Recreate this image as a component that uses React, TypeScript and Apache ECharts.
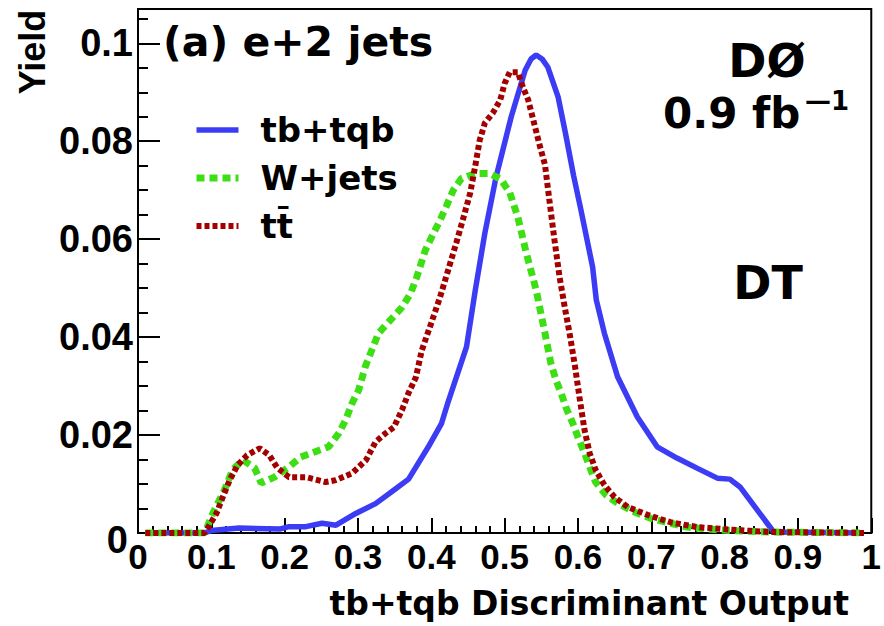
import React, { useEffect, useRef } from "react";
import * as echarts from "echarts";

const seriesNames = ["tb+tqb", "W+jets", "tt\u0304"];
const seriesColors = ["#3c3cf4", "#3ddf14", "#a40000"];

// [discriminant output, yield]
const tbTqb: [number, number][] = [
  [0.01, 0], [0.09, 0], [0.1, 0.0005], [0.138, 0.001], [0.193, 0.0008], [0.206, 0.0013],
  [0.229, 0.0013], [0.251, 0.002], [0.27, 0.0016], [0.297, 0.004], [0.324, 0.006],
  [0.351, 0.009], [0.369, 0.011], [0.396, 0.0176], [0.414, 0.0224], [0.423, 0.0268],
  [0.448, 0.038], [0.46, 0.0496], [0.473, 0.0612], [0.488, 0.0725], [0.509, 0.085],
  [0.528, 0.0945], [0.536, 0.0968], [0.543, 0.0976], [0.551, 0.0968], [0.559, 0.0951],
  [0.573, 0.089], [0.583, 0.0816], [0.594, 0.073], [0.604, 0.066], [0.62, 0.0543],
  [0.625, 0.0476], [0.636, 0.0408], [0.654, 0.0319], [0.681, 0.0237], [0.708, 0.0176],
  [0.735, 0.0153], [0.763, 0.0132], [0.79, 0.0112], [0.807, 0.011], [0.821, 0.0094],
  [0.867, 0.0002], [0.99, 0],
];

const wJets: [number, number][] = [
  [0.01, 0], [0.091, 0], [0.102, 0.004], [0.118, 0.0088], [0.129, 0.0129], [0.143, 0.0149],
  [0.159, 0.0133], [0.168, 0.0102], [0.186, 0.0114], [0.206, 0.0135], [0.222, 0.0155],
  [0.24, 0.0165], [0.26, 0.0176], [0.274, 0.0204], [0.283, 0.023], [0.292, 0.0265],
  [0.301, 0.0292], [0.31, 0.034], [0.328, 0.0408], [0.36, 0.0461], [0.372, 0.049],
  [0.38, 0.0522], [0.392, 0.0578], [0.403, 0.0612], [0.412, 0.0639], [0.421, 0.0669],
  [0.43, 0.07], [0.441, 0.0724], [0.46, 0.0734], [0.48, 0.0734], [0.495, 0.0722],
  [0.507, 0.0695], [0.518, 0.0645], [0.529, 0.0575], [0.543, 0.0496], [0.555, 0.0408],
  [0.563, 0.0347], [0.57, 0.0312], [0.577, 0.0286], [0.584, 0.0255], [0.593, 0.0224],
  [0.6, 0.0196], [0.609, 0.0163], [0.616, 0.0135], [0.624, 0.0104], [0.638, 0.0078],
  [0.654, 0.0061], [0.677, 0.0043], [0.699, 0.003], [0.726, 0.002], [0.749, 0.0012],
  [0.794, 0.0006], [0.862, 0.0002], [0.99, 0],
];

const ttbar: [number, number][] = [
  [0.01, 0], [0.091, 0], [0.107, 0.004], [0.115, 0.0071], [0.125, 0.0108], [0.136, 0.0139],
  [0.149, 0.0159], [0.166, 0.0173], [0.179, 0.0159], [0.19, 0.0133], [0.206, 0.0114],
  [0.229, 0.0114], [0.256, 0.0104], [0.27, 0.0108], [0.292, 0.0122], [0.311, 0.0149],
  [0.324, 0.0186], [0.338, 0.0204], [0.349, 0.0216], [0.36, 0.0251], [0.369, 0.0286],
  [0.379, 0.0318], [0.387, 0.0373], [0.4, 0.0429], [0.412, 0.0482], [0.423, 0.0537],
  [0.434, 0.0592], [0.444, 0.0645], [0.453, 0.0694], [0.46, 0.075], [0.466, 0.0802],
  [0.473, 0.0837], [0.484, 0.0858], [0.494, 0.0884], [0.5, 0.0918], [0.507, 0.0941],
  [0.518, 0.0941], [0.525, 0.091], [0.532, 0.0885], [0.541, 0.0832], [0.547, 0.0796],
  [0.555, 0.0752], [0.561, 0.068], [0.568, 0.0598], [0.575, 0.0522], [0.582, 0.0461],
  [0.589, 0.0404], [0.596, 0.034], [0.602, 0.0278], [0.609, 0.021], [0.616, 0.0163],
  [0.624, 0.0129], [0.636, 0.0098], [0.65, 0.0073], [0.668, 0.0053], [0.695, 0.0037],
  [0.726, 0.0022], [0.763, 0.0012], [0.817, 0.0006], [0.862, 0.0002], [0.99, 0],
];

const X_MIN = 0;
const X_MAX = 1;
const X_STEP = 0.1;
const Y_MIN = 0;
const Y_MAX = 0.107;
const Y_STEP = 0.02;
const Y_MINOR_STEP = 0.005;

const xTitle = "tb+tqb Discriminant Output";
const yTitle = "Yield";
const channelLabel = "(a) e+2 jets";
const experimentLabel = "D\u00d8";
const lumiLabel = "0.9 fb";
const lumiExponent = "\u20141";
const methodLabel = "DT";

const TICK_FONT = "Liberation Sans";
const TEXT_FONT = "DejaVu Sans";

export default function App() {
  const ref = useRef<HTMLDivElement>(null);

  useEffect(() => {
    if (!ref.current) return;
    const chart = echarts.init(ref.current, undefined, { renderer: "svg" });
    const gridRect = { left: 138, top: 9, width: 737, height: 524 };
    const black = "#000";
    const tickLine = { color: black, width: 2 };

    const yFormatter = (v: number) => {
      const k = v / Y_STEP;
      if (Math.abs(k - Math.round(k)) > 1e-6) return "";
      if (Math.abs(v) < 1e-9) return "{z|0}";
      return String(Math.round(v * 1000) / 1000);
    };

    const dashes: any[] = ["solid", [8, 5], [5, 3]];
    const widths = [5.5, 7, 6];
    const datas = [tbTqb, wJets, ttbar];

    chart.setOption({
      animation: false,
      grid: [
        { ...gridRect, show: true, borderColor: black, borderWidth: 2, backgroundColor: "transparent" },
        { ...gridRect, show: false },
      ],
      xAxis: [
        {
          gridIndex: 0,
          type: "value",
          min: X_MIN,
          max: X_MAX,
          interval: X_STEP,
          axisLine: { show: true, onZero: false, lineStyle: tickLine },
          axisTick: { show: true, inside: true, length: 15, lineStyle: tickLine },
          minorTick: { show: true, splitNumber: 5, length: 7, lineStyle: tickLine },
          splitLine: { show: false },
          axisLabel: {
            margin: 6,
            color: black,
            fontSize: 35,
            fontWeight: "bold",
            fontFamily: TICK_FONT,
            formatter: (v: number) => String(Math.round(v * 10) / 10),
          },
        },
        { gridIndex: 1, type: "value", min: X_MIN, max: X_MAX, show: false },
      ],
      yAxis: [
        {
          gridIndex: 0,
          type: "value",
          min: Y_MIN,
          max: Y_MAX,
          interval: Y_STEP,
          axisLine: { show: true, onZero: false, lineStyle: tickLine },
          axisTick: { show: true, inside: true, length: 22, lineStyle: tickLine },
          splitLine: { show: false },
          axisLabel: {
            margin: 5,
            color: black,
            fontSize: 38,
            fontWeight: "bold",
            fontFamily: TICK_FONT,
            formatter: yFormatter,
            rich: {
              z: {
                fontSize: 38,
                fontWeight: "bold",
                fontFamily: TICK_FONT,
                color: black,
                padding: [14, 5, 0, 0],
              },
            },
          },
        },
        {
          gridIndex: 1,
          type: "value",
          min: Y_MIN,
          max: Y_MAX,
          interval: Y_MINOR_STEP,
          axisLine: { show: false },
          axisTick: { show: true, inside: true, length: 10, lineStyle: tickLine },
          axisLabel: { show: false },
          splitLine: { show: false },
        },
      ],
      legend: {
        orient: "vertical",
        left: 188,
        top: 105,
        itemWidth: 42,
        itemHeight: 14,
        itemGap: 8,
        itemStyle: { color: "rgba(0,0,0,0)", borderWidth: 0, opacity: 0 },
        data: seriesNames.map((name, i) => ({
          name,
          lineStyle: { color: seriesColors[i], width: widths[i], type: dashes[i], opacity: 1 },
        })),
        textStyle: {
          fontSize: 34,
          fontWeight: "bold",
          fontFamily: TEXT_FONT,
          color: black,
          lineHeight: 40,
          padding: [0, 0, 0, 17],
        },
      },
      series: seriesNames.map((name, i) => ({
        name,
        type: "line",
        xAxisIndex: 0,
        yAxisIndex: 0,
        data: datas[i],
        symbol: "none",
        showSymbol: false,
        lineStyle: { color: seriesColors[i], width: widths[i], type: dashes[i], cap: "butt" },
        itemStyle: { color: seriesColors[i] },
        z: 2 + i,
      })),
      graphic: [
        {
          type: "text",
          x: 32,
          y: 52,
          rotation: Math.PI / 2,
          style: {
            text: yTitle,
            fontSize: 36,
            fontWeight: "bold",
            fontFamily: TICK_FONT,
            fill: black,
            align: "center",
            verticalAlign: "middle",
          },
        },
        {
          type: "text",
          x: 849,
          y: 603,
          style: {
            text: xTitle,
            fontSize: 33,
            fontWeight: "bold",
            fontFamily: TEXT_FONT,
            fill: black,
            align: "right",
            verticalAlign: "middle",
          },
        },
        {
          type: "text",
          x: 163,
          y: 42,
          style: {
            text: channelLabel,
            fontSize: 41,
            fontWeight: "bold",
            fontFamily: TEXT_FONT,
            fill: black,
            align: "left",
            verticalAlign: "middle",
          },
        },
        {
          type: "text",
          x: 767,
          y: 61,
          style: {
            text: experimentLabel,
            fontSize: 46,
            fontWeight: "bold",
            fontFamily: TEXT_FONT,
            fill: black,
            align: "center",
            verticalAlign: "middle",
          },
        },
        {
          type: "text",
          x: 663,
          y: 113,
          style: {
            text: lumiLabel,
            fontSize: 42,
            fontWeight: "bold",
            fontFamily: TEXT_FONT,
            fill: black,
            align: "left",
            verticalAlign: "middle",
          },
        },
        {
          type: "text",
          x: 805,
          y: 101,
          style: {
            text: lumiExponent,
            fontSize: 26,
            fontWeight: "bold",
            fontFamily: TEXT_FONT,
            fill: black,
            align: "left",
            verticalAlign: "middle",
          },
        },
        {
          type: "text",
          x: 768,
          y: 283,
          style: {
            text: methodLabel,
            fontSize: 46,
            fontWeight: "bold",
            fontFamily: TEXT_FONT,
            fill: black,
            align: "center",
            verticalAlign: "middle",
          },
        },
      ],
    });

    return () => chart.dispose();
  }, []);

  return (
    <div
      ref={ref}
      style={{ position: "absolute", left: 0, top: 0, width: 884, height: 626 }}
    />
  );
}
